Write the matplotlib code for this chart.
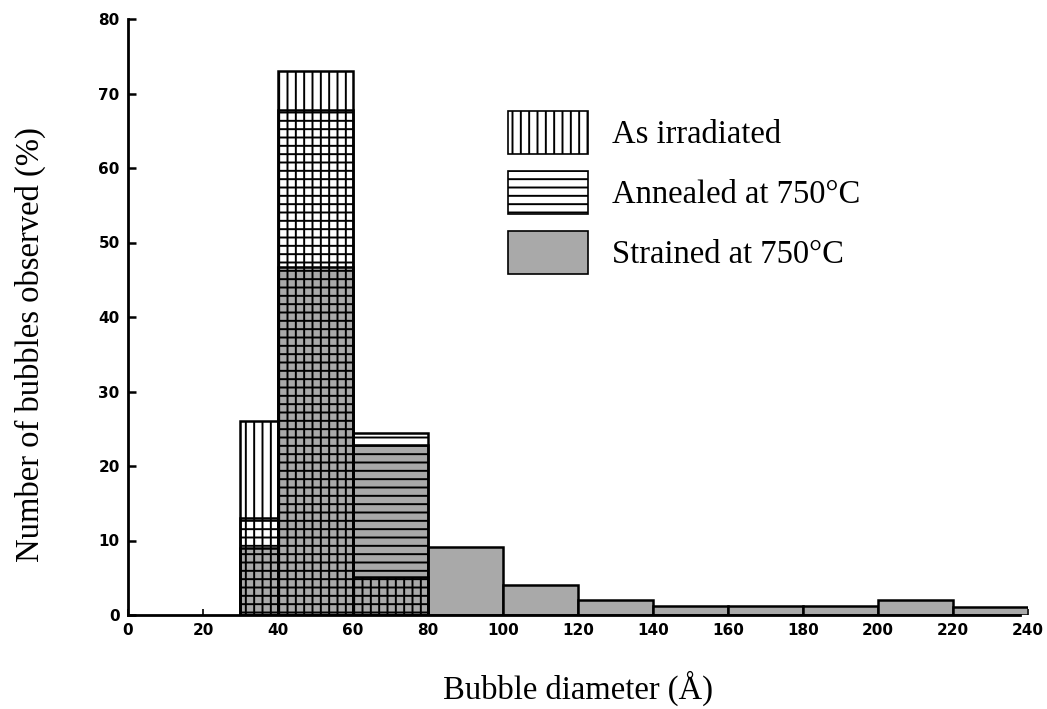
import matplotlib
matplotlib.use("Agg")
import matplotlib.pyplot as plt
from matplotlib.patches import Patch
import numpy as np

# ---- data ----
bin_edges = [30, 40, 60, 80, 100, 120, 140, 160, 180, 200, 220, 240]
as_irradiated = [26, 73, 5.1, 0, 0, 0, 0, 0, 0, 0, 0]
annealed_750 = [13, 67.8, 24.4, 0, 0, 0, 0, 0, 0, 0, 0]
strained_750 = [9, 46.7, 22.8, 9.1, 4, 2, 1.2, 1.2, 1.2, 2, 1.1]
series_labels = ["As irradiated", "Annealed at 750°C", "Strained at 750°C"]
x_ticks = [0, 20, 40, 60, 80, 100, 120, 140, 160, 180, 200, 220, 240]
y_ticks = [0, 10, 20, 30, 40, 50, 60, 70, 80]

plt.rcParams['hatch.linewidth'] = 1.4
plt.rcParams['hatch.color'] = 'black'

fig = plt.figure(figsize=(10.47, 7.09), dpi=100)
ax = fig.add_axes([128/1047, 1-615/709, 900/1047, (615-19)/709])

left = np.array(bin_edges[:-1])
width = np.diff(bin_edges)
gray = '#a9a9a9'

def draw(vals, **kw):
    v = np.array(vals, dtype=float)
    m = v > 0
    ax.bar(left[m], v[m], width=width[m], align='edge', **kw)

draw(strained_750, color=gray, edgecolor='black', linewidth=1.8, zorder=2)
draw(annealed_750, facecolor='none', edgecolor='black', hatch='--', linewidth=1.8, zorder=3)
draw(as_irradiated, facecolor='none', edgecolor='black', hatch='||', linewidth=1.8, zorder=4)

ax.set_xlim(0, 240)
ax.set_ylim(0, 80)
ax.set_xticks(x_ticks)
ax.set_yticks(y_ticks)
tick_font = dict(family='DejaVu Sans', weight='bold', size=11)
ax.set_xticklabels([str(t) for t in x_ticks], **tick_font)
ax.set_yticklabels([str(t) for t in y_ticks], **tick_font)
ax.tick_params(axis='y', direction='in', length=6, width=1.8, pad=6)
ax.tick_params(axis='x', direction='in', length=4, width=1.2, pad=6)
for s in ['top', 'right']:
    ax.spines[s].set_visible(False)
for s in ['left', 'bottom']:
    ax.spines[s].set_linewidth(2)
ax.spines['bottom'].set_bounds(0, 238)

serif = dict(family='Liberation Serif', size=23.5)
fig.text(30/1047, 1-345/709, "Number of bubbles observed (%)", rotation=90,
         ha='center', va='center', **serif)
fig.text(578/1047, 1-688/709, "Bubble diameter (Å)", ha='center', va='center', **serif)

# legend
handles = [Patch(facecolor='white', edgecolor='black', hatch='||', linewidth=1.2),
           Patch(facecolor='white', edgecolor='black', hatch='--', linewidth=1.2),
           Patch(facecolor=gray, edgecolor='black', linewidth=1.2)]
leg = ax.legend(handles, series_labels, loc='upper left',
                bbox_to_anchor=(498/1047, 1-101/709), bbox_transform=fig.transFigure,
                frameon=False, prop=dict(family='Liberation Serif', size=23.5),
                handlelength=2.45, handleheight=1.65, labelspacing=0.52, handletextpad=0.75,
                borderaxespad=0, borderpad=0.3)

fig.savefig("out.png", dpi=100)
